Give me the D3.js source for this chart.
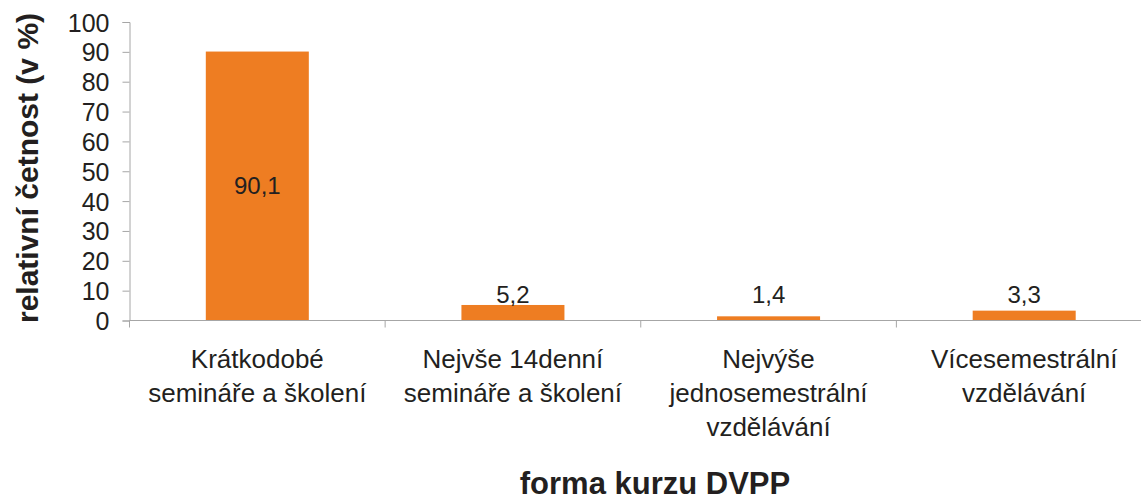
<!DOCTYPE html>
<html>
<head>
<meta charset="utf-8">
<script src="https://cdn.jsdelivr.net/npm/d3@7"></script>
<style>
body { margin: 0; background: #fff; }
text { font-family: "Liberation Sans", Arial, sans-serif; fill: #231f20; }
</style>
</head>
<body>
<div class="chart"></div>
<script>
(function() {
var width = 1141, height = 497;
var margin = {top: 22, left: 129.5, bottom: 176, right: -11};

var categories = [
  ["Krátkodobé", "semináře a školení"],
  ["Nejvše 14denní", "semináře a školení"],
  ["Nejvýše", "jednosemestrální", "vzdělávání"],
  ["Vícesemestrální", "vzdělávání"]
];
var values = [90.1, 5.2, 1.4, 3.3];
var yTicks = [0, 10, 20, 30, 40, 50, 60, 70, 80, 90, 100];
var yTitle = "relativní četnost (v %)";
var xTitle = "forma kurzu DVPP";

var svg = d3.select(".chart").append("svg")
  .attr("width", width).attr("height", height);

var x = d3.scaleBand()
  .domain(d3.range(categories.length))
  .range([margin.left, width - margin.right])
  .padding(0);

var y = d3.scaleLinear()
  .domain([0, 100])
  .range([height - margin.bottom - 0.5, margin.top]);

var barW = x.bandwidth() * 0.403;

// bars
svg.selectAll("rect.bar").data(values)
  .enter().append("rect")
  .attr("class", "bar")
  .attr("x", function(d, i) { return x(i) + x.bandwidth() / 2 - barW / 2 })
  .attr("y", function(d) { return y(d) })
  .attr("width", barW)
  .attr("height", function(d) { return y(0) - y(d) })
  .style("fill", "#ee7d22");

// y axis
var yAxis = svg.append("g")
  .attr("transform", "translate(" + margin.left + ",0)")
  .call(d3.axisLeft(y).tickValues(yTicks).tickSize(7).tickPadding(13));
yAxis.select(".domain").attr("stroke", "#a6a6a6");
yAxis.selectAll(".tick line").attr("stroke", "#a6a6a6");
yAxis.selectAll(".tick text")
  .style("font-size", "25px").attr("fill", "#231f20").attr("dy", "0.36em");

// x axis line + boundary ticks
var x0 = y(0);
svg.append("line")
  .attr("x1", margin.left).attr("x2", width)
  .attr("y1", x0).attr("y2", x0)
  .attr("stroke", "#a6a6a6");
svg.selectAll("line.xtick").data(d3.range(categories.length + 1))
  .enter().append("line")
  .attr("class", "xtick")
  .attr("x1", function(d) { return d < categories.length ? x(d) : width - margin.right })
  .attr("x2", function(d) { return d < categories.length ? x(d) : width - margin.right })
  .attr("y1", x0).attr("y2", x0 + 7)
  .attr("stroke", "#a6a6a6");

// category labels
var cat = svg.selectAll("text.cat").data(categories)
  .enter().append("text")
  .attr("class", "cat")
  .attr("text-anchor", "middle")
  .style("font-size", "26px");
cat.selectAll("tspan").data(function(d, i) { return d.map(function(t) { return {t: t, i: i} }) })
  .enter().append("tspan")
  .attr("x", function(d) { return x(d.i) + x.bandwidth() / 2 })
  .attr("y", function(d, j) { return x0 + 47 + j * 34 })
  .text(function(d) { return d.t });

// value labels
svg.selectAll("text.val").data(values)
  .enter().append("text")
  .attr("class", "val")
  .attr("text-anchor", "middle")
  .style("font-size", "24px")
  .attr("x", function(d, i) { return x(i) + x.bandwidth() / 2 })
  .attr("y", function(d) { return (y(0) - y(d)) > 40 ? (y(d) + y(0)) / 2 + 8 : y(0) - 18 })
  .text(function(d) { return String(d).replace(".", ",") });

// titles
svg.append("text")
  .attr("transform", "translate(38," + 168 + ") rotate(-90)")
  .attr("text-anchor", "middle")
  .style("font-size", "30px").style("font-weight", "bold")
  .text(yTitle);

svg.append("text")
  .attr("x", 655).attr("y", 494)
  .attr("text-anchor", "middle")
  .style("font-size", "31px").style("font-weight", "bold")
  .text(xTitle);
})()
</script>
</body>
</html>
